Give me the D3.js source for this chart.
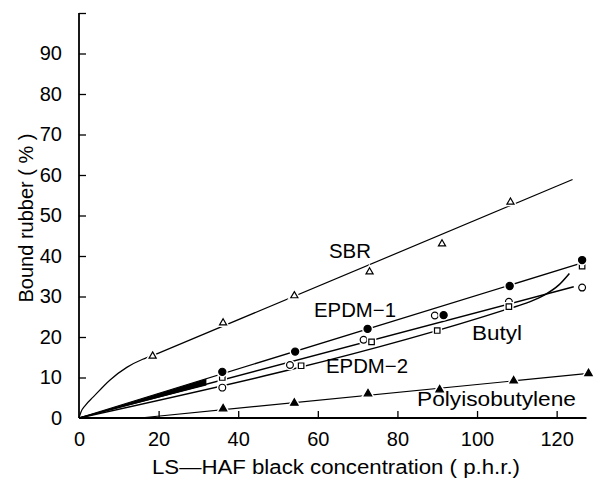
<!DOCTYPE html>
<html><head><meta charset="utf-8">
<script src="https://cdn.jsdelivr.net/npm/d3@7"></script>
<style>body{margin:0;background:#fff}svg{display:block}text{font-family:"Liberation Sans",Arial,sans-serif;fill:#000}</style>
</head><body><svg id="c" width="596" height="478"></svg>
<script>
// ---- data ----
const xTicks = [0, 20, 40, 60, 80, 100, 120];
const yTicks = [0, 10, 20, 30, 40, 50, 60, 70, 80, 90, 100];
const yTickLabels = ["0","10","20","30","40","50","60","70","80","90",""];

// SBR (open triangles)
const sbrX = [18.5, 36.2, 54.1, 73.0, 91.2, 108.4];
const sbrY = [15.3, 23.5, 30.2, 36.1, 43.0, 53.3];
const sbrCurveX = [0, 0.5, 1.5, 3.6, 7.8, 12, 16, 18.5];
const sbrCurveY = [0, 1.5, 3.0, 5.2, 9.4, 12.5, 14.5, 15.4];
const sbrLineX = [18.5, 124];
const sbrLineY = [15.4, 58.9];

// EPDM-1 (filled circles)
const epdm1X = [36, 54.3, 72.5, 91.6, 108.2, 126.4];
const epdm1Y = [11.4, 16.4, 22.0, 25.4, 32.6, 39.0];
const epdm1LineX = [0, 126.4];
const epdm1LineY = [0, 38.3];

// EPDM-2 (open circles)
const epdm2X = [36, 53, 71.5, 89.4, 108, 126.4];
const epdm2Y = [7.5, 13.1, 19.3, 25.3, 28.7, 32.2];
const epdm2LineX = [0, 124.3];
const epdm2LineY = [0, 32.4];

// Butyl (open squares)
const butylX = [36, 55.8, 73.5, 90, 108, 126.4];
const butylY = [10.0, 12.9, 18.8, 21.6, 27.5, 37.5];
const butylLineX = [0, 108, 113, 117, 120.5, 123.2];
const butylLineY = [0, 27.0, 28.6, 30.4, 32.8, 35.7];

// Polyisobutylene (filled triangles)
const pibX = [36.2, 54.1, 72.6, 90.6, 109.2, 128];
const pibY = [2.3, 3.7, 6.0, 7.0, 9.2, 11.0];
const pibLineX = [15.3, 128];
const pibLineY = [0, 11.0];

const wedgeEnd = 32;

const labels = ["SBR", "EPDM\u22121", "Butyl", "EPDM\u22122", "Polyisobutylene"];
const labelX = [329, 314, 472, 326, 417];
const labelY = [258, 317, 340, 373, 406];
const labelW = [42, 82, 50, 82, 159];

// ---- chart ----
const svg = d3.select("#c");
const x = d3.scaleLinear().domain([0, 127.5]).range([79, 586.5]);
const y = d3.scaleLinear().domain([0, 100]).range([418, 13]);
const zip = (a, b) => a.map((v, i) => [v, b[i]]);
const line = d3.line().x(d => x(d[0])).y(d => y(d[1]));

// wedge near origin (region between Butyl and EPDM-1 lines)
const s1 = epdm1LineY[1] / epdm1LineX[1];
const sb = butylLineY[1] / butylLineX[1];
svg.append("path")
  .datum([0, wedgeEnd])
  .attr("d", d3.area().x(d => x(d)).y0(d => y(d * sb)).y1(d => y(d * s1)))
  .attr("fill", "#000");

function drawLine(xs, ys, w, curve) {
  svg.append("path").datum(zip(xs, ys))
    .attr("d", line.curve(curve || d3.curveLinear))
    .attr("fill", "none").attr("stroke", "#000").attr("stroke-width", w);
}
drawLine(sbrCurveX, sbrCurveY, 1.2, d3.curveMonotoneX);
drawLine(sbrLineX, sbrLineY, 1.2);
drawLine(epdm1LineX, epdm1LineY, 1.3);
drawLine(epdm2LineX, epdm2LineY, 1.5);
drawLine(butylLineX, butylLineY, 1.5, d3.curveMonotoneX);
drawLine(pibLineX, pibLineY, 1.2);

// axes
const xAxis = d3.axisBottom(x).tickValues(xTicks).tickSize(-7).tickPadding(14).tickFormat(d3.format("d"));
const gx = svg.append("g").attr("transform", `translate(0,${y(0)})`).call(xAxis);
gx.select(".domain").attr("d", `M${x(0)},0H${x(127.5)}`).attr("stroke-width", 2);
gx.selectAll(".tick line").attr("stroke-width", 1.3);
gx.selectAll(".tick").filter(d => d === 0).select("line").remove();
gx.selectAll("text").attr("font-size", 20).attr("font-family", "Liberation Sans, Arial, sans-serif");

const yAxis = d3.axisLeft(y).tickValues(yTicks).tickSize(-7).tickPadding(17).tickFormat((d, i) => yTickLabels[i]);
const gy = svg.append("g").attr("transform", `translate(${x(0)},0)`).call(yAxis);
gy.select(".domain").attr("d", `M0,${y(0)}V${y(100)}`).attr("stroke-width", 1.8);
gy.selectAll(".tick line").attr("stroke-width", 1.3);
gy.selectAll(".tick").filter(d => d === 0).select("line").remove();
gy.selectAll("text").attr("font-size", 20).attr("font-family", "Liberation Sans, Arial, sans-serif");

// markers
const sym = (type, size) => d3.symbol().type(type).size(size)();
function markers(xs, ys, type, size, filled) {
  const pts = zip(xs, ys);
  svg.append("g").selectAll("path.h").data(pts).join("path")
    .attr("transform", d => `translate(${x(d[0])},${y(d[1])})`)
    .attr("d", sym(type, size)).attr("fill", "#fff").attr("stroke", "#fff").attr("stroke-width", 4);
  svg.append("g").selectAll("path.m").data(pts).join("path")
    .attr("transform", d => `translate(${x(d[0])},${y(d[1])})`)
    .attr("d", sym(type, size))
    .attr("fill", filled ? "#000" : "#fff").attr("stroke", "#000").attr("stroke-width", 1.2);
}
markers(sbrX, sbrY, d3.symbolTriangle, 22, false);
markers(pibX, pibY, d3.symbolTriangle, 24, true);
markers(epdm2X, epdm2Y, d3.symbolCircle, 36, false);
markers(butylX, butylY, d3.symbolSquare, 30, false);
markers(epdm1X, epdm1Y, d3.symbolCircle, 40, true);

// series labels
labels.forEach((t, i) => {
  svg.append("text").attr("x", labelX[i]).attr("y", labelY[i])
    .attr("font-size", 20).attr("textLength", labelW[i]).attr("lengthAdjust", "spacingAndGlyphs").text(t);
});

// axis titles
svg.append("text").attr("x", 152).attr("y", 474).attr("font-size", 20)
  .attr("textLength", 368).attr("lengthAdjust", "spacingAndGlyphs")
  .text("LS\u2014HAF black concentration ( p.h.r.)");
svg.append("text").attr("transform", "translate(33,218) rotate(-90)")
  .attr("text-anchor", "middle").attr("font-size", 20)
  .text("Bound rubber ( % )");
</script></body></html>
